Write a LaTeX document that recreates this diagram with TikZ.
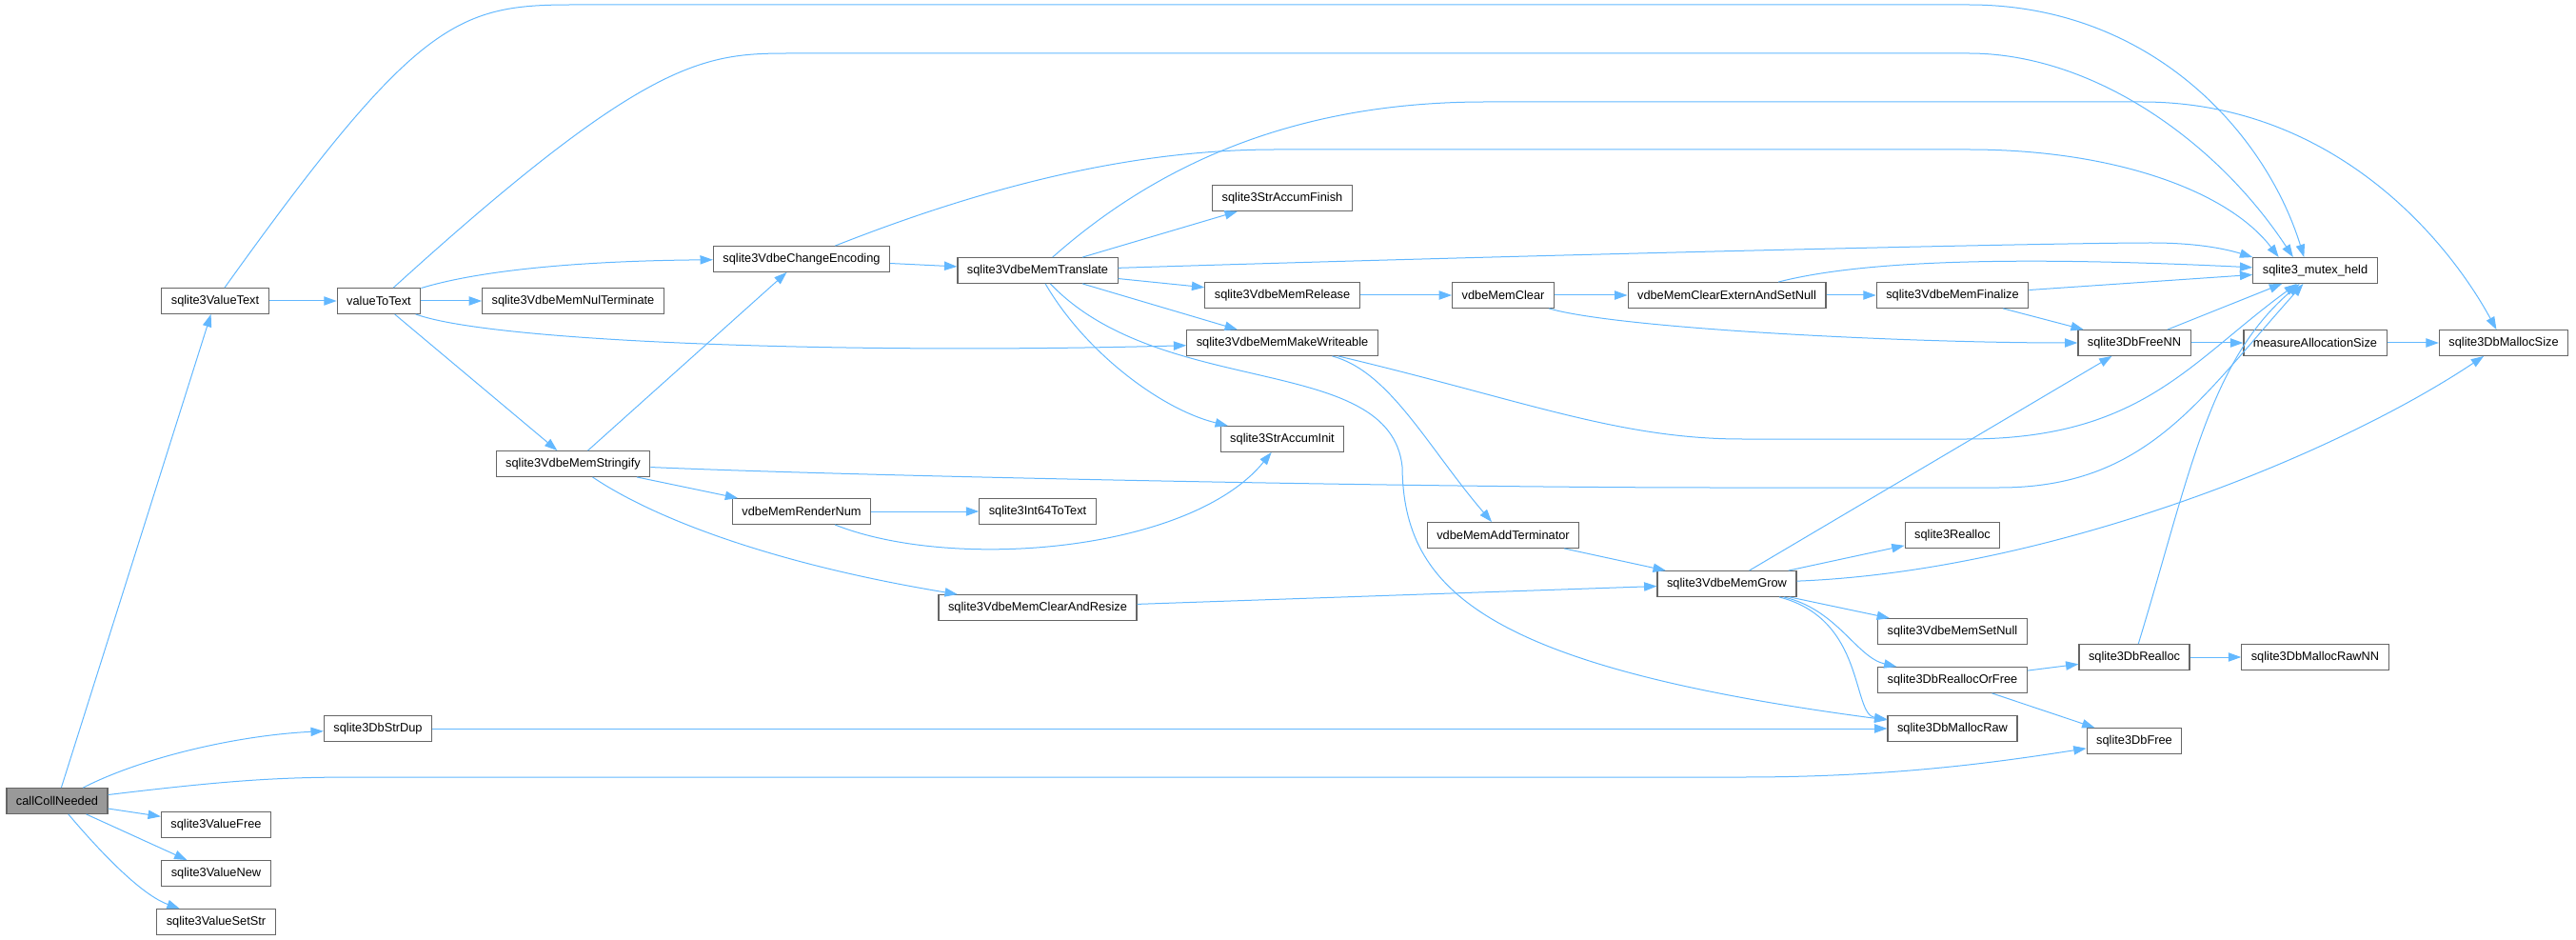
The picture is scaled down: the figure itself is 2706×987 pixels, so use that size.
\documentclass[tikz,border=0pt]{standalone}
\usepackage{fontspec}
\setmainfont{Liberation Sans}
\usetikzlibrary{arrows.meta}
\definecolor{callblue}{HTML}{63B8FF}
\definecolor{boxgray}{HTML}{666666}
\definecolor{rootgray}{HTML}{999999}
\begin{document}
\begin{tikzpicture}[x=0.75pt,y=-0.75pt]
    \useasboundingbox (0,0) rectangle (2706,987);
    \begin{scope}[every node/.style={rectangle,draw=boxgray,fill=white,line width=0.9pt,minimum height=20pt,inner xsep=7.5pt,inner ysep=0pt,font=\fontsize{9.6pt}{11pt}\selectfont}]
        \node[fill=rootgray] (callcoll) at (60,841) {callCollNeeded};
        \node (valuetext) at (226,316) {sqlite3ValueText};
        \node (valuefree) at (227,866) {sqlite3ValueFree};
        \node (valuenew) at (227,917) {sqlite3ValueNew};
        \node (valuesetstr) at (227,968) {sqlite3ValueSetStr};
        \node (valuetotext) at (398,316) {valueToText};
        \node (strdup) at (397,765) {sqlite3DbStrDup};
        \node (nulterm) at (602,316) {sqlite3VdbeMemNulTerminate};
        \node (stringify) at (602,487) {sqlite3VdbeMemStringify};
        \node (changeenc) at (842,272) {sqlite3VdbeChangeEncoding};
        \node (rendernum) at (842,537) {vdbeMemRenderNum};
        \node (translate) at (1090,284) {sqlite3VdbeMemTranslate};
        \node (int64) at (1090,537) {sqlite3Int64ToText};
        \node (clearresize) at (1090,638) {sqlite3VdbeMemClearAndResize};
        \node (accumfinish) at (1347,208) {sqlite3StrAccumFinish};
        \node (memrelease) at (1347,310) {sqlite3VdbeMemRelease};
        \node (makewrite) at (1347,360) {sqlite3VdbeMemMakeWriteable};
        \node (accuminit) at (1347,461) {sqlite3StrAccumInit};
        \node (memclear) at (1579,310) {vdbeMemClear};
        \node (addterm) at (1579,562) {vdbeMemAddTerminator};
        \node (clearextern) at (1814,310) {vdbeMemClearExternAndSetNull};
        \node (memgrow) at (1814,613) {sqlite3VdbeMemGrow};
        \node (finalize) at (2051,310) {sqlite3VdbeMemFinalize};
        \node (realloc) at (2051,562) {sqlite3Realloc};
        \node (setnull) at (2051,663) {sqlite3VdbeMemSetNull};
        \node (reallocorfree) at (2051,714) {sqlite3DbReallocOrFree};
        \node (mallocraw) at (2051,765) {sqlite3DbMallocRaw};
        \node (freenn) at (2242,360) {sqlite3DbFreeNN};
        \node (dbrealloc) at (2242,690) {sqlite3DbRealloc};
        \node (dbfree) at (2242,778) {sqlite3DbFree};
        \node (mutexheld) at (2432,284) {sqlite3\_mutex\_held};
        \node (measure) at (2432,360) {measureAllocationSize};
        \node (mallocrawnn) at (2432,690) {sqlite3DbMallocRawNN};
        \node (mallocsize) at (2630,360) {sqlite3DbMallocSize};
    \end{scope}

    \begin{scope}[>={Triangle[length=10pt,width=7pt]},color=callblue,line width=0.75pt]
        % straight calls
        \path [->] (callcoll) edge (valuetext);
        \path [->] (callcoll) edge (valuefree);
        \path [->] (callcoll) edge (valuenew);
        \path [->] (valuetext) edge (valuetotext);
        \path [->] (valuetotext) edge (nulterm);
        \path [->] (valuetotext) edge (stringify);
        \path [->] (stringify) edge (changeenc);
        \path [->] (stringify) edge (rendernum);
        \path [->] (rendernum) edge (int64);
        \path [->] (changeenc) edge (translate);
        \path [->] (translate) edge (accumfinish);
        \path [->] (translate) edge (memrelease);
        \path [->] (translate) edge (makewrite);
        \path [->] (memrelease) edge (memclear);
        \path [->] (memclear) edge (clearextern);
        \path [->] (clearextern) edge (finalize);
        \path [->] (finalize) edge (mutexheld);
        \path [->] (finalize) edge (freenn);
        \path [->] (freenn) edge (mutexheld);
        \path [->] (freenn) edge (measure);
        \path [->] (measure) edge (mallocsize);
        \path [->] (addterm) edge (memgrow);
        \path [->] (clearresize) edge (memgrow);
        \path [->] (memgrow) edge (freenn);
        \path [->] (memgrow) edge (realloc);
        \path [->] (memgrow) edge (setnull);
        \path [->] (reallocorfree) edge (dbrealloc);
        \path [->] (reallocorfree) edge (dbfree);
        \path [->] (dbrealloc) edge (mallocrawnn);
        \path [->] (strdup) edge (mallocraw);
        % curved calls
        \draw [->] (callcoll) .. controls (150,795) and (250,772) .. (strdup);
        \draw [->] (callcoll) .. controls (250,818) and (300,816) .. (380,816) -- (1830,816) .. controls (1990,816) and (2100,800) .. (dbfree);
        \draw [->] (callcoll) .. controls (110,900) and (150,940) .. (valuesetstr);
        \draw [->] (valuetext) .. controls (436,23) and (480,5) .. (600,5) -- (2068,5) .. controls (2260,5) and (2380,140) .. (mutexheld.130);
        \draw [->] (valuetotext) .. controls (680,60) and (740,56) .. (830,56) -- (2068,56) .. controls (2200,56) and (2330,150) .. (mutexheld.149);
        \draw [->] (valuetotext) .. controls (500,285) and (600,274) .. (changeenc);
        \draw [->] (valuetotext) .. controls (520,360) and (900,372) .. (makewrite);
        \draw [->] (stringify) .. controls (900,500) and (1500,512) .. (1800,512) -- (2100,512) .. controls (2255,512) and (2310,420) .. (mutexheld);
        \draw [->] (stringify) .. controls (680,540) and (800,590) .. (clearresize);
        \draw [->] (rendernum) .. controls (1000,600) and (1250,580) .. (accuminit);
        \draw [->] (changeenc) .. controls (1050,190) and (1200,157) .. (1340,157) -- (2068,157) .. controls (2220,157) and (2340,200) .. (mutexheld.160);
        \draw [->] (translate) .. controls (1600,268) and (2150,255) .. (2260,255) .. controls (2310,255) and (2340,262) .. (mutexheld.north west);
        \draw [->] (translate) .. controls (1140,370) and (1220,430) .. (accuminit);
        \draw [->] (translate) .. controls (1220,420) and (1460,370) .. (1473,490) .. controls (1474,620) and (1560,700) .. (mallocraw);
        \draw [->] (translate) .. controls (1230,160) and (1380,107) .. (1560,107) -- (2250,107) .. controls (2450,107) and (2570,250) .. (mallocsize);
        \draw [->] (memclear) .. controls (1700,345) and (2000,360) .. (freenn);
        \draw [->] (clearextern) .. controls (1950,275) and (2100,268) .. (mutexheld);
        \draw [->] (makewrite) .. controls (1460,390) and (1500,470) .. (addterm);
        \draw [->] (makewrite) .. controls (1600,420) and (1700,461) .. (1830,461) -- (2066,461) .. controls (2250,461) and (2300,380) .. (mutexheld);
        \draw [->] (memgrow) .. controls (2150,600) and (2450,480) .. (mallocsize);
        \draw [->] (memgrow) .. controls (1930,640) and (1950,690) .. (reallocorfree);
        \draw [->] (memgrow) .. controls (1960,650) and (1945,750) .. (mallocraw);
        \draw [->] (dbrealloc) .. controls (2300,500) and (2320,380) .. (mutexheld);
    \end{scope}
\end{tikzpicture}
\end{document}
